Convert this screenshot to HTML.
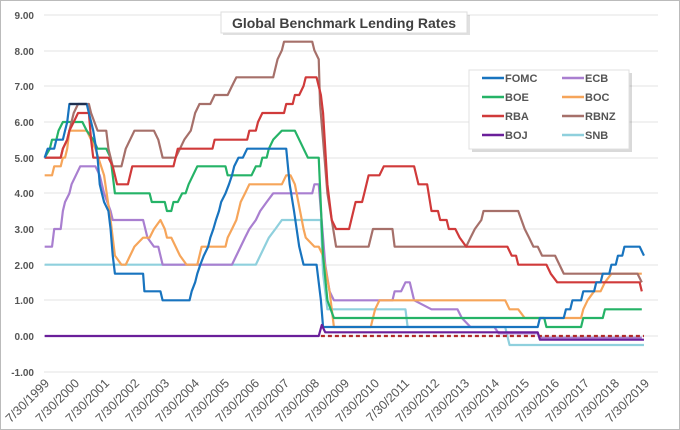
<!DOCTYPE html>
<html><head><meta charset="utf-8"><style>
html,body{margin:0;padding:0;background:#fff}
svg{display:block;font-family:"Liberation Sans",sans-serif}
</style></head><body>
<svg width="680" height="430" viewBox="0 0 680 430">
<rect x="0.5" y="0.5" width="679" height="429" fill="#fff" stroke="#bbb"/>
<g stroke="#e3e3e3" stroke-width="1">
<line x1="44" x2="658" y1="15" y2="15"/><line x1="44" x2="658" y1="51" y2="51"/><line x1="44" x2="658" y1="86" y2="86"/><line x1="44" x2="658" y1="122" y2="122"/><line x1="44" x2="658" y1="158" y2="158"/><line x1="44" x2="658" y1="193" y2="193"/><line x1="44" x2="658" y1="229" y2="229"/><line x1="44" x2="658" y1="265" y2="265"/><line x1="44" x2="658" y1="300" y2="300"/><line x1="44" x2="658" y1="336" y2="336"/><line x1="44" x2="658" y1="372" y2="372"/>
</g>
<g font-size="10" font-weight="bold" fill="#555" text-anchor="end">
<text x="34" y="19">9.00</text><text x="34" y="55">8.00</text><text x="34" y="90">7.00</text><text x="34" y="126">6.00</text><text x="34" y="162">5.00</text><text x="34" y="197">4.00</text><text x="34" y="233">3.00</text><text x="34" y="269">2.00</text><text x="34" y="304">1.00</text><text x="34" y="340">0.00</text><text x="34" y="376">-1.00</text>
</g>
<g font-size="12.5" fill="#555" text-anchor="end">
<text transform="translate(50,384) rotate(-45)">7/30/1999</text>
<text transform="translate(80,384) rotate(-45)">7/30/2000</text>
<text transform="translate(110,384) rotate(-45)">7/30/2001</text>
<text transform="translate(140,384) rotate(-45)">7/30/2002</text>
<text transform="translate(170,384) rotate(-45)">7/30/2003</text>
<text transform="translate(200,384) rotate(-45)">7/30/2004</text>
<text transform="translate(230,384) rotate(-45)">7/30/2005</text>
<text transform="translate(260,384) rotate(-45)">7/30/2006</text>
<text transform="translate(290,384) rotate(-45)">7/30/2007</text>
<text transform="translate(320,384) rotate(-45)">7/30/2008</text>
<text transform="translate(350,384) rotate(-45)">7/30/2009</text>
<text transform="translate(380,384) rotate(-45)">7/30/2010</text>
<text transform="translate(410,384) rotate(-45)">7/30/2011</text>
<text transform="translate(440,384) rotate(-45)">7/30/2012</text>
<text transform="translate(470,384) rotate(-45)">7/30/2013</text>
<text transform="translate(500,384) rotate(-45)">7/30/2014</text>
<text transform="translate(530,384) rotate(-45)">7/30/2015</text>
<text transform="translate(560,384) rotate(-45)">7/30/2016</text>
<text transform="translate(590,384) rotate(-45)">7/30/2017</text>
<text transform="translate(620,384) rotate(-45)">7/30/2018</text>
<text transform="translate(650,384) rotate(-45)">7/30/2019</text>
</g>
<g transform="scale(0.43365,0.33333)" fill="none" stroke-width="2.2" stroke-linejoin="round">
<polyline vector-effect="non-scaling-stroke" stroke="#8fd0dd" points="103,794 590,794 600,767 610,740 620,713 635,687 650,660 665,660 740,660 745,821 755,928 935,928 940,981 1165,981 1175,1035 1485,1035"/>
<polyline vector-effect="non-scaling-stroke" stroke="#a97fd0" points="103,740 120,740 125,687 140,687 145,633 150,606 160,580 165,553 175,526 185,499 220,499 230,526 240,580 255,633 260,660 330,660 340,713 355,740 365,740 375,794 535,794 545,767 555,740 565,713 575,687 590,660 600,633 615,606 630,580 720,580 725,553 735,553 745,713 750,794 760,874 770,901 905,901 910,874 925,874 935,847 945,847 955,901 995,928 1055,928 1065,954 1085,981 1140,981 1150,1000 1240,1000 1245,1013 1480,1013"/>
<polyline vector-effect="non-scaling-stroke" stroke="#f6a55a" points="103,526 120,526 125,499 140,499 145,473 150,473 155,446 160,392 200,392 210,419 220,446 240,526 255,660 265,767 280,794 290,794 300,767 310,740 330,713 345,713 355,687 370,660 380,687 385,713 395,713 405,740 415,767 430,794 455,794 465,740 520,740 525,713 535,687 545,660 555,606 565,580 575,553 650,553 660,526 670,526 680,553 700,687 705,713 725,740 735,740 745,767 760,874 770,981 855,981 860,954 865,928 875,901 1165,901 1175,928 1195,928 1210,954 1340,954 1345,928 1355,901 1370,874 1385,874 1395,847 1410,821 1480,821"/>
<polyline vector-effect="non-scaling-stroke" stroke="#25b367" points="103,473 115,446 120,419 130,419 135,392 145,366 190,366 200,392 215,419 225,446 245,446 255,473 265,580 345,580 350,606 380,606 385,633 395,633 400,606 410,606 420,580 428,580 435,553 445,526 455,499 520,499 525,526 580,526 590,499 600,499 605,473 615,473 620,446 630,419 650,392 680,392 690,419 700,446 710,473 735,473 745,767 755,901 770,954 1255,954 1260,981 1340,981 1345,954 1390,954 1395,928 1480,928"/>
<polyline vector-effect="non-scaling-stroke" stroke="#a6706a" points="103,473 140,473 145,446 155,419 160,392 170,339 180,312 205,312 210,339 225,392 245,392 250,446 260,499 280,499 290,446 300,419 310,392 355,392 365,419 375,473 405,473 415,446 425,419 440,392 445,366 450,339 460,312 485,312 495,285 525,285 535,258 545,232 630,232 640,178 650,151 655,125 720,125 725,151 735,178 738,312 745,420 755,580 765,660 775,740 850,740 860,687 905,687 910,740 1075,740 1085,713 1095,687 1110,660 1115,633 1195,633 1210,687 1220,713 1230,740 1240,740 1250,767 1280,767 1290,794 1300,821 1470,821 1480,847"/>
<polyline vector-effect="non-scaling-stroke" stroke="#d03a3a" points="103,473 140,473 145,446 155,419 160,392 170,366 180,339 205,339 210,419 215,473 250,473 260,499 270,553 295,553 300,526 305,499 400,499 410,446 490,446 495,419 570,419 575,392 590,392 595,366 605,339 655,339 660,312 675,312 680,285 690,285 700,258 705,232 730,232 740,285 745,339 755,553 765,660 775,687 805,687 810,660 820,606 835,606 840,580 850,526 875,526 885,499 955,499 960,526 965,553 985,553 995,633 1010,633 1015,660 1030,660 1035,687 1050,687 1060,713 1075,740 1170,740 1180,767 1190,767 1195,794 1260,794 1270,821 1285,847 1475,847 1480,874"/>
<polyline vector-effect="non-scaling-stroke" stroke="#1874bf" points="103,473 110,446 125,446 130,419 145,419 150,392 155,366 160,312 200,312 205,339 215,392 225,473 230,553 235,580 240,606 250,633 255,687 260,767 265,821 330,821 333,874 370,874 375,901 437,901 442,874 450,847 455,821 462,794 470,767 480,740 485,713 492,687 498,660 505,633 510,606 520,580 528,553 535,526 540,499 550,473 560,473 570,446 660,446 668,553 678,633 690,740 700,794 730,794 740,901 745,981 1240,981 1245,954 1300,954 1305,928 1315,928 1320,901 1340,901 1345,874 1370,874 1375,847 1385,847 1390,821 1405,821 1410,794 1420,794 1425,767 1435,767 1440,740 1475,740 1485,767"/>
<polyline vector-effect="non-scaling-stroke" stroke="#203050" points="160,312 200,312"/>
<polyline vector-effect="non-scaling-stroke" stroke="#b02a2a" stroke-dasharray="4,3" points="740,1008 1485,1008"/>
<polyline vector-effect="non-scaling-stroke" stroke="#6a1f9a" points="103,1008 735,1008 742,975 750,997 1240,997 1245,1019 1485,1019"/>
</g>
<g>
<rect x="223" y="15" width="247" height="20" fill="#000" opacity="0.12"/>
<rect x="221" y="12" width="246" height="21" fill="#fff" stroke="#ddd"/>
<text x="344" y="28" text-anchor="middle" font-size="14" font-weight="bold" fill="#404040">Global Benchmark Lending Rates</text>
</g>
<g>
<rect x="472" y="73" width="160" height="79" fill="#000" opacity="0.15"/>
<rect x="469" y="70" width="160" height="79" fill="#fff" stroke="#e0e0e0"/>
<g stroke-width="2.5">
<line x1="482" x2="504" y1="78" y2="78" stroke="#1874bf"/>
<line x1="482" x2="504" y1="97" y2="97" stroke="#25b367"/>
<line x1="482" x2="504" y1="116" y2="116" stroke="#d03a3a"/>
<line x1="482" x2="504" y1="135" y2="135" stroke="#6a1f9a"/>
<line x1="562" x2="584" y1="78" y2="78" stroke="#a97fd0"/>
<line x1="562" x2="584" y1="97" y2="97" stroke="#f6a55a"/>
<line x1="562" x2="584" y1="116" y2="116" stroke="#a6706a"/>
<line x1="562" x2="584" y1="135" y2="135" stroke="#8fd0dd"/>
</g>
<g font-size="11" fill="#555" font-weight="bold">
<text x="505" y="82">FOMC</text><text x="505" y="101">BOE</text><text x="505" y="120">RBA</text><text x="505" y="139">BOJ</text>
<text x="585" y="82">ECB</text><text x="585" y="101">BOC</text><text x="585" y="120">RBNZ</text><text x="585" y="139">SNB</text>
</g>
</g>
</svg>
</body></html>
